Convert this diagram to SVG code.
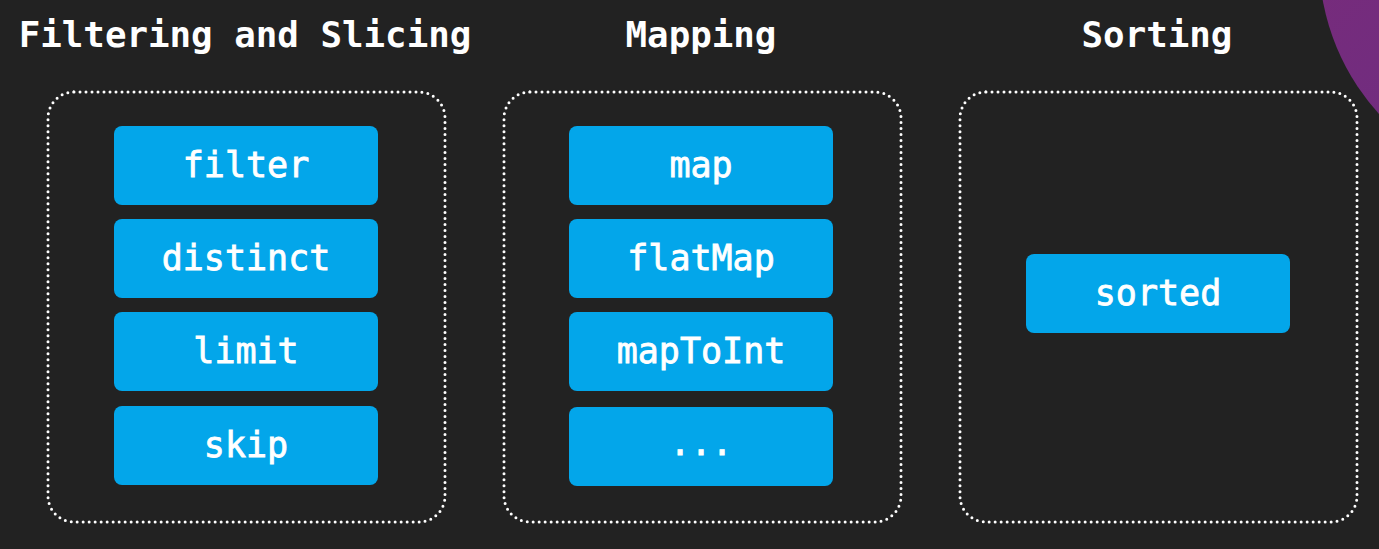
<svg xmlns="http://www.w3.org/2000/svg" width="1379" height="549" viewBox="0 0 1379 549">
<defs>
<linearGradient id="purple" x1="0" y1="0" x2="1" y2="1">
<stop offset="0" stop-color="#7d2a78"/>
<stop offset="1" stop-color="#652f86"/>
</linearGradient>
</defs>
<style>
.title{font-family:"DejaVu Sans Mono","Liberation Mono",monospace;font-weight:bold;font-size:35.8px;fill:#ffffff;text-anchor:middle}
.group{fill:none;stroke:#ffffff;stroke-width:3;stroke-dasharray:0 6;stroke-linecap:round}
.op rect{fill:#03a6ea}
.op text{font-family:"DejaVu Sans Mono","Liberation Mono",monospace;font-size:35px;fill:#ffffff;stroke:#ffffff;stroke-width:0.8;text-anchor:middle;dominant-baseline:central}
</style>
<rect x="0" y="0" width="1379" height="549" fill="#222222"/>
<circle cx="1549" cy="-41" r="230" fill="url(#purple)"/>

<g id="group-filtering">
<text class="title" x="245" y="47">Filtering and Slicing</text>
<rect class="group" x="48" y="92" width="397" height="430" rx="26"/>
</g>
<g id="group-mapping">
<text class="title" x="701" y="47">Mapping</text>
<rect class="group" x="504" y="92" width="397" height="430" rx="26"/>
</g>
<g id="group-sorting">
<text class="title" x="1157" y="47">Sorting</text>
<rect class="group" x="960" y="92" width="397" height="430" rx="26"/>
</g>

<g id="node-filter" class="op"><rect x="114" y="126" width="264" height="79" rx="8"/><text x="246" y="165">filter</text></g>
<g id="node-distinct" class="op"><rect x="114" y="219" width="264" height="79" rx="8"/><text x="246" y="258">distinct</text></g>
<g id="node-limit" class="op"><rect x="114" y="312" width="264" height="79" rx="8"/><text x="246" y="351">limit</text></g>
<g id="node-skip" class="op"><rect x="114" y="406" width="264" height="79" rx="8"/><text x="246" y="445">skip</text></g>

<g id="node-map" class="op"><rect x="569" y="126" width="264" height="79" rx="8"/><text x="701" y="165">map</text></g>
<g id="node-flatMap" class="op"><rect x="569" y="219" width="264" height="79" rx="8"/><text x="701" y="258">flatMap</text></g>
<g id="node-mapToInt" class="op"><rect x="569" y="312" width="264" height="79" rx="8"/><text x="701" y="351">mapToInt</text></g>
<g id="node-more" class="op"><rect x="569" y="407" width="264" height="79" rx="8"/><text x="701" y="443">...</text></g>

<g id="node-sorted" class="op"><rect x="1026" y="254" width="264" height="79" rx="8"/><text x="1158" y="293">sorted</text></g>

<g id="connectors"></g>
</svg>
